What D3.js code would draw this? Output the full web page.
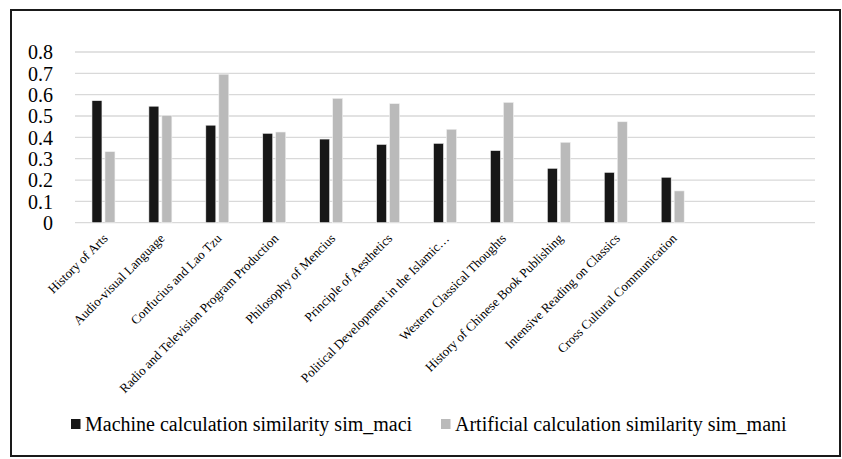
<!DOCTYPE html>
<html>
<head>
<meta charset="utf-8">
<script src="https://cdn.jsdelivr.net/npm/d3@7"></script>
<style>
  html, body { margin: 0; padding: 0; background: #fff; }
  svg { display: block; }
  text { font-family: "Liberation Serif", "Times New Roman", serif; fill: #000; }
</style>
</head>
<body>
<svg id="chart" width="842" height="459"></svg>
<script>
const categories = [
  "History of Arts",
  "Audio-visual Language",
  "Confucius and Lao Tzu",
  "Radio and Television Program Production",
  "Philosophy of Mencius",
  "Principle of Aesthetics",
  "Political Development in the Islamic\u2026",
  "Western Classical Thoughts",
  "History of Chinese Book Publishing",
  "Intensive Reading on Classics",
  "Cross Cultural Communication"
];
const slotCount = 13; // two empty category slots at the end
const simMaci = [0.572, 0.546, 0.457, 0.419, 0.392, 0.367, 0.372, 0.338, 0.255, 0.236, 0.213];
const simMani = [0.333, 0.503, 0.696, 0.425, 0.583, 0.558, 0.438, 0.564, 0.377, 0.473, 0.149];
const seriesNames = ["Machine calculation similarity sim_maci", "Artificial calculation similarity sim_mani"];
const seriesColors = ["#171717", "#bababa"];
const yTicks = [0, 0.1, 0.2, 0.3, 0.4, 0.5, 0.6, 0.7, 0.8];

const svg = d3.select("#chart");

// frame
svg.append("rect")
  .attr("x", 11).attr("y", 10).attr("width", 829).attr("height", 446)
  .attr("fill", "none").attr("stroke", "#1a1a1a").attr("stroke-width", 2);

const plotL = 75, plotR = 815, plotT = 52, plotB = 222.7;

const x = d3.scaleBand()
  .domain(d3.range(slotCount))
  .range([plotL, plotR])
  .paddingInner(0.596)
  .paddingOuter(0.298);

const xs = d3.scaleBand()
  .domain(d3.range(seriesNames.length))
  .range([0, x.bandwidth()])
  .paddingInner(3 / 13);

const y = d3.scaleLinear().domain([0, 0.8]).range([plotB, plotT]);

// gridlines
svg.append("g")
  .selectAll("line")
  .data(yTicks)
  .join("line")
  .attr("x1", plotL).attr("x2", plotR)
  .attr("y1", d => y(d)).attr("y2", d => y(d))
  .attr("stroke", "#d9d9d9").attr("stroke-width", 1.3);

// y axis labels
const yAxis = d3.axisLeft(y).tickValues(yTicks).tickSize(0).tickPadding(0)
  .tickFormat(d => d === 0 ? "0" : d3.format(".1f")(d));
const yg = svg.append("g").attr("transform", `translate(53,0)`).call(yAxis);
yg.attr("font-family", null).attr("font-size", null);
yg.select(".domain").remove();
yg.selectAll("text")
  .attr("font-size", 20).attr("fill", "#000").attr("dy", "0.34em");

// bars
const seriesData = [simMaci, simMani];
seriesData.forEach((vals, si) => {
  svg.append("g")
    .selectAll("rect")
    .data(vals)
    .join("rect")
    .attr("x", (d, i) => x(i) + xs(si))
    .attr("width", xs.bandwidth())
    .attr("y", d => y(d))
    .attr("height", d => y(0) - y(d))
    .attr("fill", seriesColors[si])
    .attr("stroke", "#f2f2f2").attr("stroke-width", 0.6);
});

// x labels
svg.append("g")
  .selectAll("text")
  .data(categories)
  .join("text")
  .attr("transform", (d, i) => `translate(${x(i) + x.bandwidth() / 2 + 5},${plotB + 16.5}) rotate(-45)`)
  .attr("text-anchor", "end")
  .attr("font-size", 13)
  .text(d => d);

// legend
const legendItems = [
  { name: seriesNames[0], color: seriesColors[0], x: 71 },
  { name: seriesNames[1], color: seriesColors[1], x: 441 }
];
const lg = svg.append("g");
legendItems.forEach(it => {
  lg.append("rect").attr("x", it.x).attr("y", 419).attr("width", 9.5).attr("height", 10).attr("fill", it.color);
  lg.append("text").attr("x", it.x + 14).attr("y", 431).attr("font-size", 20).text(it.name);
});
</script>
</body>
</html>
